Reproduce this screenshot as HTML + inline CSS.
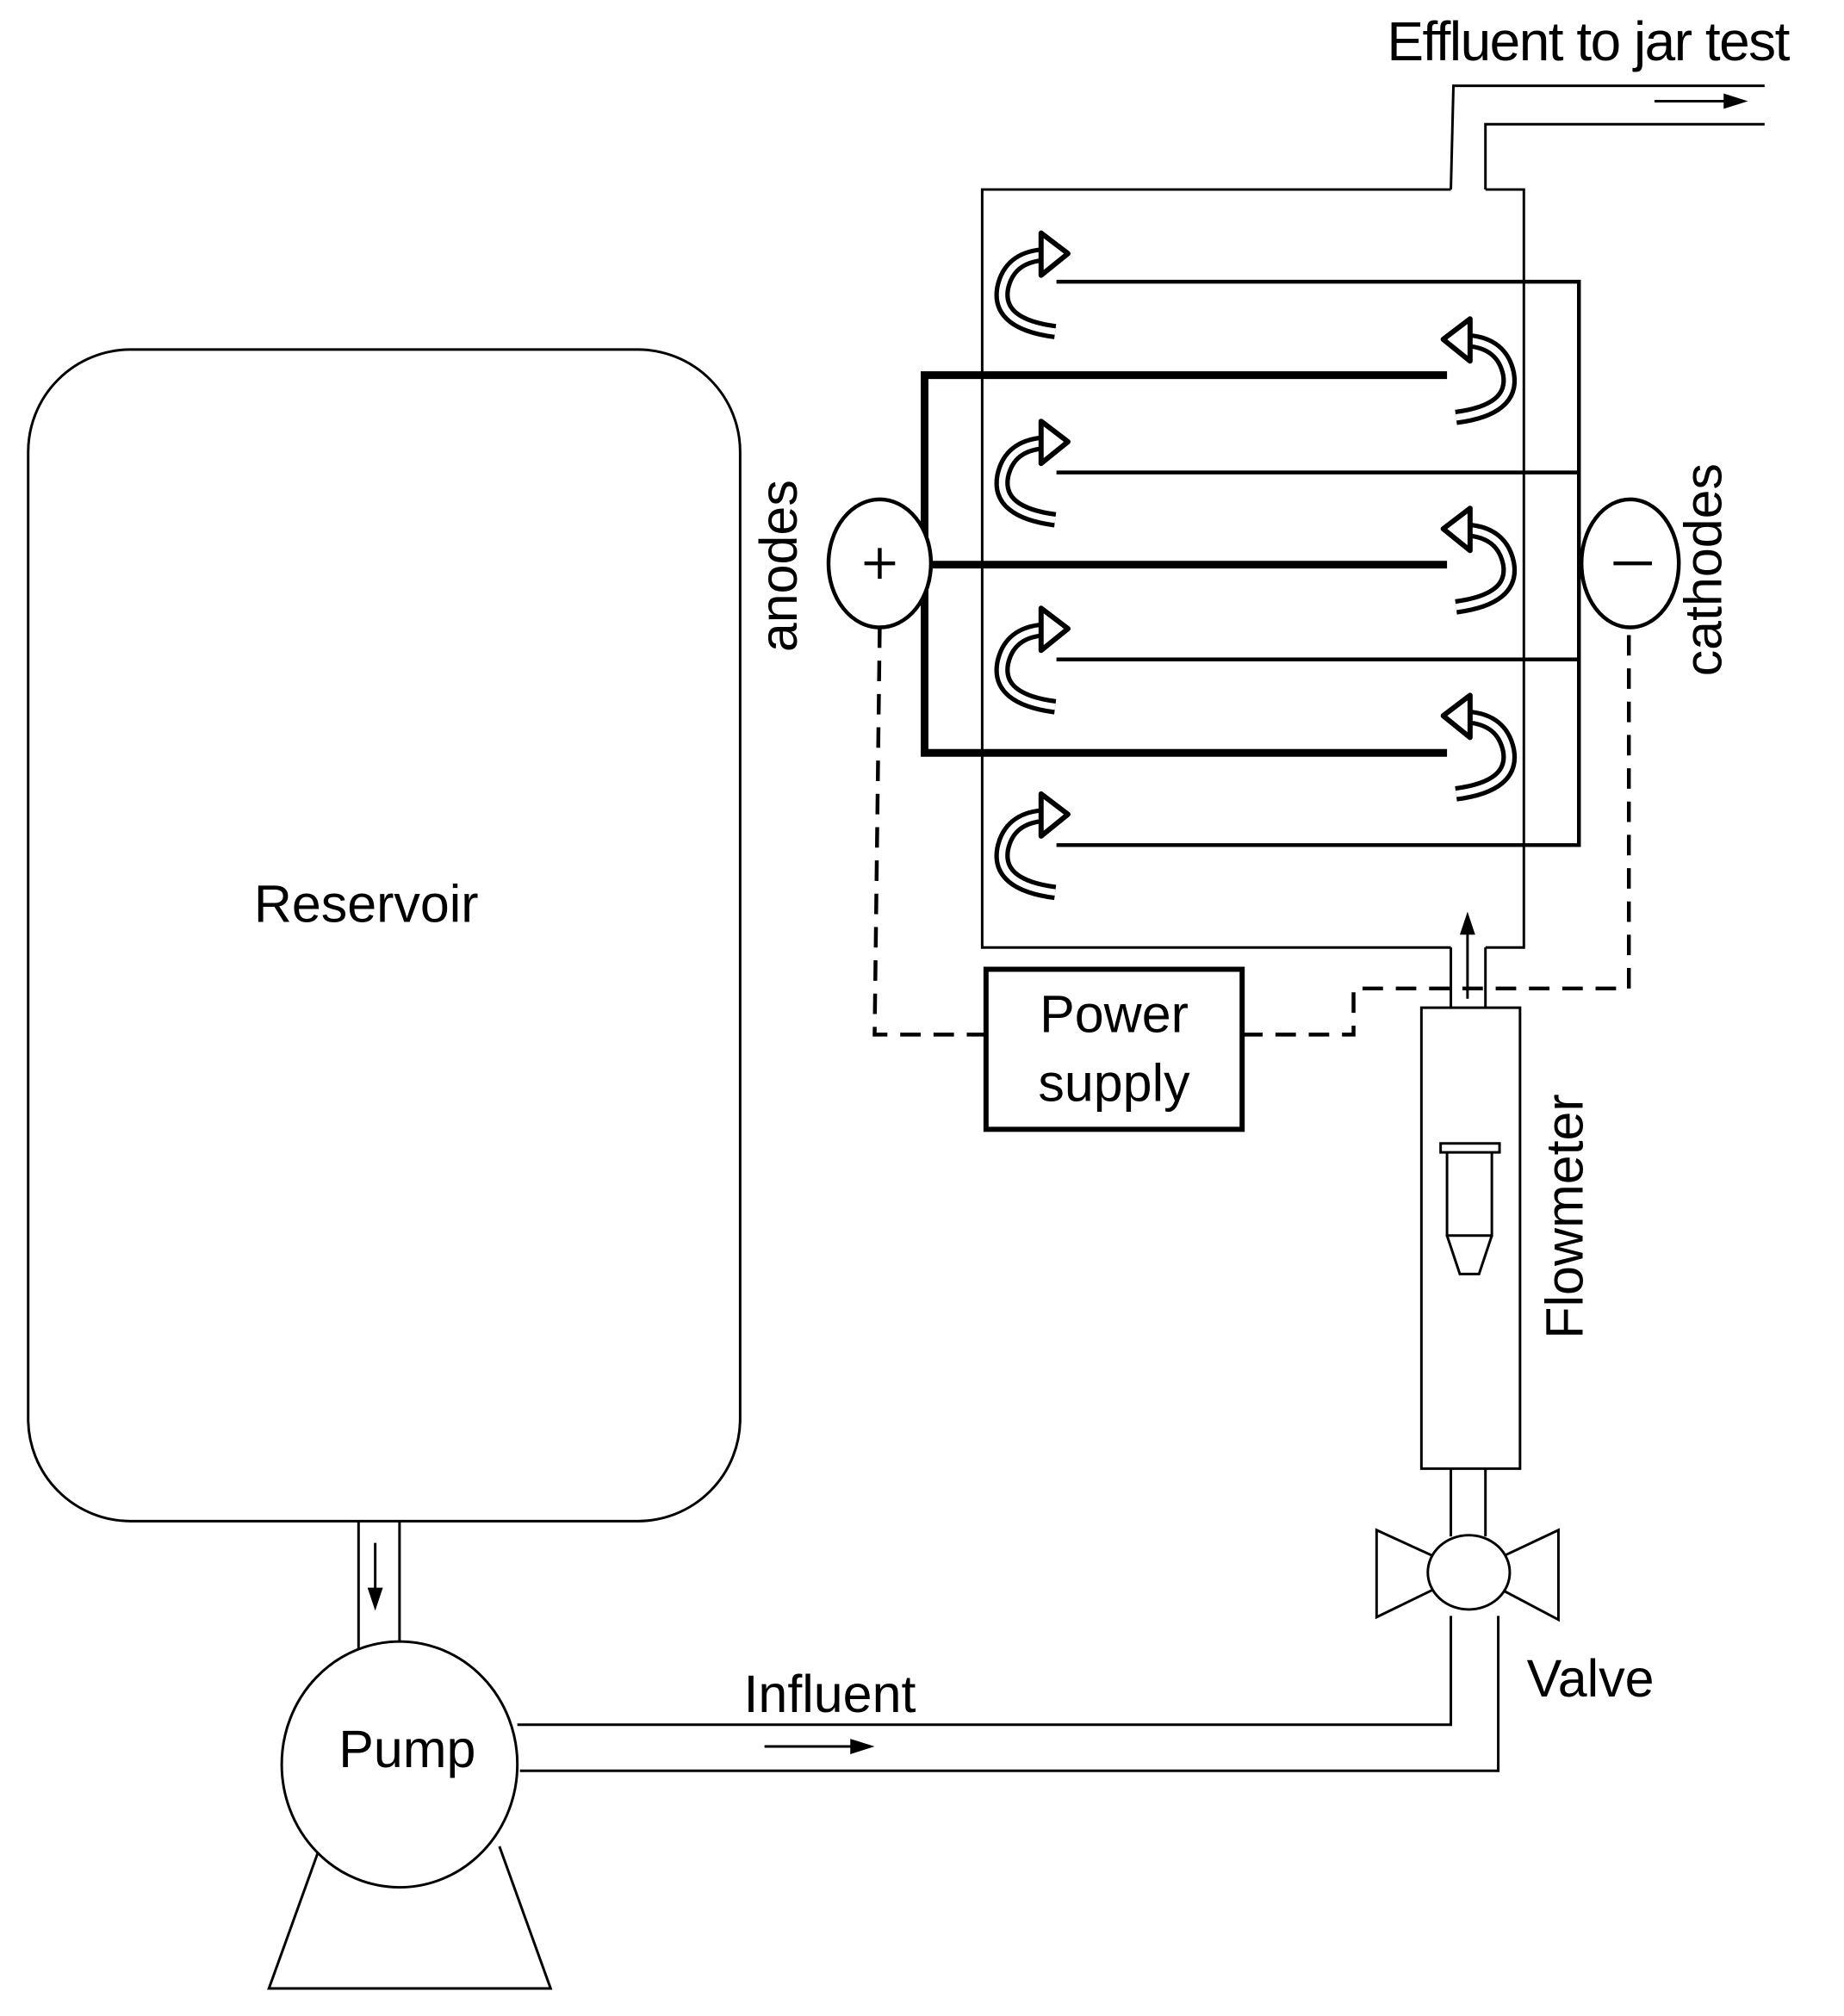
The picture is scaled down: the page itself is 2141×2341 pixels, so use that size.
<!DOCTYPE html>
<html><head><meta charset="utf-8"><style>
html,body{margin:0;padding:0;background:#fff;}
svg{display:block;}
text{font-family:"Liberation Sans",Arial,sans-serif;fill:#000;}
</style></head><body>
<svg width="2141" height="2341" viewBox="0 0 1440 1574.5" preserveAspectRatio="none" xmlns="http://www.w3.org/2000/svg">
<defs>
<g id="carr">
  <path d="M824 34 Q778 28 783 0 Q788 -24 815 -26" fill="none" stroke="#000" stroke-width="12"/>
  <path d="M824 34 Q778 28 783 0 Q788 -24 815 -26" fill="none" stroke="#fff" stroke-width="5"/>
  <polygon points="813,-43 834,-27 813,-10" fill="#fff" stroke="#000" stroke-width="4" stroke-linejoin="round"/>
</g>
</defs>
<g fill="none" stroke="#000">
<rect x="22" y="273" width="556" height="915" rx="80" stroke-width="2"/>
<line x1="280" y1="1188" x2="280" y2="1290" stroke-width="2"/>
<line x1="312" y1="1188" x2="312" y2="1287" stroke-width="2"/>
<line x1="293" y1="1205" x2="293" y2="1245" stroke-width="2"/>
<path d="M250 1442 L210 1553 L430 1553 L390 1442" stroke-width="2"/>
<ellipse cx="312" cy="1378" rx="92" ry="96" fill="#fff" stroke-width="2"/>
<polyline points="404,1347 1133,1347 1133,1262" stroke-width="2"/>
<polyline points="406,1383 1170,1383 1170,1262" stroke-width="2"/>
<line x1="597" y1="1364" x2="668" y2="1364" stroke-width="2"/>
<polygon points="1075,1195 1147,1228 1075,1263" fill="#fff" stroke-width="2"/>
<polygon points="1217,1195 1147,1228 1217,1265" fill="#fff" stroke-width="2"/>
<ellipse cx="1147" cy="1228" rx="32" ry="29" fill="#fff" stroke-width="2"/>
<line x1="1133" y1="1147" x2="1133" y2="1200" stroke-width="2"/>
<line x1="1160" y1="1147" x2="1160" y2="1200" stroke-width="2"/>
<rect x="1110" y="787" width="77" height="360" stroke-width="2"/>
<rect x="1125" y="893" width="46" height="7" stroke-width="2"/>
<path d="M1130 900 L1130 965 L1165 965 L1165 900" stroke-width="2"/>
<path d="M1130 965 L1140 995 L1155 995 L1165 965" stroke-width="2"/>
<line x1="1133" y1="740" x2="1133" y2="787" stroke-width="2"/>
<line x1="1160" y1="740" x2="1160" y2="787" stroke-width="2"/>
<line x1="1146" y1="780" x2="1146" y2="725" stroke-width="2"/>
<polyline points="1133,148 767,148 767,740 1133,740" stroke-width="2"/>
<polyline points="1160,740 1190,740 1190,148 1160,148" stroke-width="2"/>
<polyline points="1133,148 1135,67 1378,67" stroke-width="2"/>
<polyline points="1160,148 1160,97 1378,97" stroke-width="2"/>
<line x1="1292" y1="79" x2="1350" y2="79" stroke-width="2"/>
<polyline points="825,220 1233,220 1233,660 825,660" stroke-width="3"/>
<line x1="825" y1="369" x2="1233" y2="369" stroke-width="3"/>
<line x1="825" y1="515" x2="1233" y2="515" stroke-width="3"/>
<polyline points="1130,293 722,293 722,588 1130,588" stroke-width="6"/>
<line x1="722" y1="441" x2="1130" y2="441" stroke-width="6"/>
<ellipse cx="687" cy="440" rx="40" ry="50" fill="#fff" stroke-width="3"/>
<ellipse cx="1273" cy="440" rx="38" ry="50" fill="#fff" stroke-width="3"/>
<line x1="675" y1="440" x2="699" y2="440" stroke-width="3"/>
<line x1="687" y1="428" x2="687" y2="452" stroke-width="3"/>
<line x1="1260" y1="440" x2="1290" y2="440" stroke-width="3"/>
<polyline points="687,490 683,808 770,808" stroke-width="3" stroke-dasharray="16,10"/>
<polyline points="970,808 1057,808 1057,772 1272,772 1272,490" stroke-width="3" stroke-dasharray="16,10"/>
<rect x="770" y="757" width="200" height="125" fill="#fff" stroke-width="4"/>
</g>
<polygon points="293,1258 287,1240 299,1240" fill="#000"/>
<polygon points="683,1364 664,1358 664,1370" fill="#000"/>
<polygon points="1365,79 1346,73 1346,85" fill="#000"/>
<polygon points="1146,712 1140,730 1152,730" fill="#000"/>
<use href="#carr" transform="translate(0,225)"/>
<use href="#carr" transform="translate(0,372)"/>
<use href="#carr" transform="translate(0,518)"/>
<use href="#carr" transform="translate(0,663)"/>
<use href="#carr" transform="translate(1961,292) scale(-1,1)"/>
<use href="#carr" transform="translate(1961,440) scale(-1,1)"/>
<use href="#carr" transform="translate(1961,586) scale(-1,1)"/>
<text x="286" y="720" font-size="41" text-anchor="middle">Reservoir</text>
<text x="318" y="1380" font-size="41" text-anchor="middle">Pump</text>
<text x="648" y="1337" font-size="41" text-anchor="middle">Influent</text>
<text x="1242" y="1325" font-size="41" text-anchor="middle">Valve</text>
<text x="1240" y="47" font-size="43" letter-spacing="-1" text-anchor="middle">Effluent to jar test</text>
<text x="870" y="806" font-size="41" text-anchor="middle">Power</text>
<text x="870" y="860" font-size="41" text-anchor="middle">supply</text>
<text transform="translate(1236,950) rotate(-90)" font-size="41" text-anchor="middle">Flowmeter</text>
<text transform="translate(622,442) rotate(-90)" font-size="41" text-anchor="middle">anodes</text>
<text transform="translate(1344,445) rotate(-90)" font-size="41" text-anchor="middle">cathodes</text>
</svg>
</body></html>
